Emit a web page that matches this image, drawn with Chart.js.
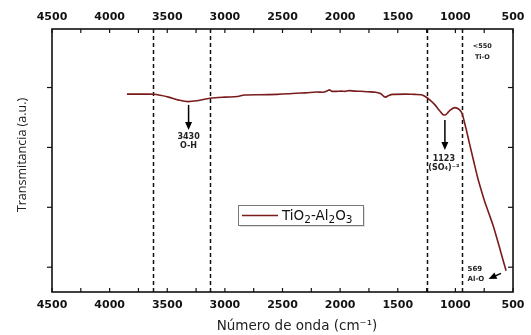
<!DOCTYPE html>
<html><head><meta charset="utf-8">
<script src="https://cdn.jsdelivr.net/npm/chart.js@4"></script>
<style>html,body{margin:0;padding:0;background:#fff}#wrap{width:531px;height:335px;position:relative}</style>
</head><body><div id="wrap"><canvas id="c" width="531" height="335"></canvas></div>
<script>
// ---- data ----
const wavenumbers = [3850,3750,3650,3618,3560,3489,3400,3318,3240,3130,3000,2890,2830,2700,2547,2450,2376,2300,2205,2150,2110,2093,2070,2033,1990,1960,1922,1870,1819,1760,1691,1650,1620,1605,1580,1545,1434,1350,1297,1262,1220,1177,1140,1106,1091,1070,1048,1005,980,962,943,910,877,840,806,775,748,710,677,650,620,590,560];
const transmittance = [2.89,2.89,2.89,2.888,2.87,2.84,2.79,2.765,2.78,2.82,2.84,2.85,2.875,2.88,2.886,2.895,2.905,2.91,2.925,2.92,2.945,2.96,2.935,2.935,2.94,2.935,2.948,2.94,2.937,2.93,2.92,2.9,2.85,2.84,2.865,2.886,2.89,2.885,2.88,2.85,2.79,2.71,2.62,2.545,2.54,2.57,2.62,2.665,2.65,2.625,2.57,2.33,2.06,1.76,1.49,1.28,1.11,0.9,0.72,0.55,0.35,0.14,-0.06];
const bandLines = [3620, 3125, 1250, 940];
const xTickLabels = [4500,4000,3500,3000,2500,2000,1500,1000,500];
const xMinorTicks = [4250,3750,3250,2750,2250,1750,1250,750];
const yTicks = [0,1,2,3];
const seriesName = 'TiO2-Al2O3';
const xTitle = 'Número de onda (cm⁻¹)';
const yTitle = 'Transmitancia (a.u.)';
const annotations = [
  {lines:['3430','O-H'], x:3315, y:[2.18,2.03], size:8, arrow:{x1:3315,y1:2.71,x2:3315,y2:2.29}},
  {lines:['1123','(SO₄)⁻²'], x:1100, y:[1.806,1.651], size:8, arrow:{x1:1091,y1:2.457,x2:1091,y2:1.957}},
  {lines:['<550','Ti-O'], x:766, y:[3.681,3.497], size:6.5},
  {lines:['569','Al-O'], x:894, y:[-0.035,-0.202], size:7, align:'left', arrow:{x1:605,y1:-0.102,x2:712,y2:-0.197}}
];
const Y_MIN = -0.414, Y_MAX = 3.977;
const CURVE = '#7b1c1c';

const decor = {
  id:'decor',
  beforeDatasetsDraw(chart){
    const {ctx, chartArea:a, scales:{x}} = chart;
    ctx.save();
    ctx.strokeStyle='#111'; ctx.lineWidth=1.5; ctx.setLineDash([4,3]);
    bandLines.forEach(v=>{const px=Math.round(x.getPixelForValue(v))+0.5;ctx.beginPath();ctx.moveTo(px,a.top);ctx.lineTo(px,a.bottom);ctx.stroke();});
    ctx.restore();
  },
  afterDatasetsDraw(chart){
    const {ctx, chartArea:a, scales:{x,y}} = chart;
    ctx.save();
    // frame
    ctx.strokeStyle='#111'; ctx.lineWidth=1.6;
    ctx.strokeRect(a.left,a.top,a.right-a.left,a.bottom-a.top);
    ctx.lineWidth=1.2;
    const all = xTickLabels.concat(xMinorTicks);
    all.forEach(v=>{const px=x.getPixelForValue(v);
      ctx.beginPath();ctx.moveTo(px,a.top);ctx.lineTo(px,a.top+4);ctx.stroke();
      ctx.beginPath();ctx.moveTo(px,a.bottom);ctx.lineTo(px,a.bottom-4);ctx.stroke();});
    yTicks.forEach(v=>{const py=y.getPixelForValue(v);
      ctx.beginPath();ctx.moveTo(a.left,py);ctx.lineTo(a.left-5,py);ctx.stroke();
      ctx.beginPath();ctx.moveTo(a.right,py);ctx.lineTo(a.right-5,py);ctx.stroke();});
    // annotations
    ctx.fillStyle='#222';
    annotations.forEach(an=>{
      ctx.font='bold '+an.size+'px "DejaVu Sans"';
      ctx.textAlign=an.align||'center'; ctx.textBaseline='middle';
      an.lines.forEach((t,i)=>ctx.fillText(t,x.getPixelForValue(an.x),y.getPixelForValue(an.y[i])));
      if(an.arrow){
        const x1=x.getPixelForValue(an.arrow.x1),y1=y.getPixelForValue(an.arrow.y1),x2=x.getPixelForValue(an.arrow.x2),y2=y.getPixelForValue(an.arrow.y2);
        const ang=Math.atan2(y2-y1,x2-x1), L=8, W=3.5;
        ctx.strokeStyle='#000';ctx.fillStyle='#000';ctx.lineWidth=1.5;
        ctx.beginPath();ctx.moveTo(x1,y1);ctx.lineTo(x2-Math.cos(ang)*L*0.8,y2-Math.sin(ang)*L*0.8);ctx.stroke();
        ctx.beginPath();ctx.moveTo(x2,y2);
        ctx.lineTo(x2-Math.cos(ang)*L-Math.sin(ang)*W,y2-Math.sin(ang)*L+Math.cos(ang)*W);
        ctx.lineTo(x2-Math.cos(ang)*L+Math.sin(ang)*W,y2-Math.sin(ang)*L-Math.cos(ang)*W);
        ctx.closePath();ctx.fill();
        ctx.fillStyle='#222';
      }
    });
    // legend
    const lx=238, ly=205, lw=125, lh=20;
    ctx.fillStyle='rgba(0,0,0,0.12)'; ctx.fillRect(lx+2,ly+2,lw,lh);
    ctx.fillStyle='#fff'; ctx.fillRect(lx,ly,lw,lh);
    ctx.strokeStyle='#777'; ctx.lineWidth=1; ctx.strokeRect(lx+0.5,ly+0.5,lw,lh);
    ctx.strokeStyle=CURVE; ctx.lineWidth=1.5;
    ctx.beginPath();ctx.moveTo(lx+4,ly+10.5);ctx.lineTo(lx+40,ly+10.5);ctx.stroke();
    ctx.fillStyle='#111'; ctx.textAlign='left'; ctx.textBaseline='alphabetic';
    let tx=lx+44; const base=ly+14.5;
    const parts = seriesName.match(/[A-Za-z\-]+|\d/g);
    parts.forEach(p=>{
      const sub=/^\d$/.test(p);
      ctx.font=(sub?'10.5px':'13.5px')+' "DejaVu Sans"';
      ctx.fillText(p,tx,base+(sub?3.5:0)); tx+=ctx.measureText(p).width;
    });
    // axis titles
    ctx.fillStyle='#222'; ctx.textAlign='center'; ctx.textBaseline='middle';
    ctx.font='13.5px "DejaVu Sans"';
    ctx.fillText(xTitle,297,326);
    ctx.save(); ctx.translate(22,155); ctx.rotate(-Math.PI/2);
    ctx.font='12.5px "Open Sans"'; ctx.fillText(yTitle,0,0); ctx.restore();
    ctx.restore();
  }
};

const tickFont = {family:'DejaVu Sans', weight:'bold', size:11};
const xAxis = (pos, h, pad) => ({
  type:'linear', position:pos, reverse:true, min:500, max:4500,
  afterFit: s=>{s.height=h;},
  afterBuildTicks: s=>{s.ticks=xTickLabels.map(v=>({value:v}));},
  ticks:{font:tickFont, color:'#111', padding:pad, maxRotation:0, autoSkip:false, callback:v=>String(v)},
  grid:{display:false, drawTicks:false}, border:{display:false}
});
const yAxis = (pos, w) => ({
  type:'linear', position:pos, min:Y_MIN, max:Y_MAX,
  afterFit: s=>{s.width=w;},
  ticks:{display:false}, grid:{display:false, drawTicks:false}, border:{display:false}
});

new Chart(document.getElementById('c'), {
  type:'line',
  data:{datasets:[{
    label:seriesName,
    data:wavenumbers.map((w,i)=>({x:w,y:transmittance[i]})),
    borderColor:CURVE, borderWidth:1.6, pointRadius:0, cubicInterpolationMode:'monotone', fill:false
  }]},
  options:{
    responsive:false, animation:false, devicePixelRatio:1,
    layout:{padding:0},
    plugins:{legend:{display:false}, tooltip:{enabled:false}},
    scales:{
      x: xAxis('bottom',43,6.5),
      x2: xAxis('top',29,5),
      y: yAxis('left',52),
      y2: yAxis('right',12)
    }
  },
  plugins:[decor]
});
</script></body></html>
